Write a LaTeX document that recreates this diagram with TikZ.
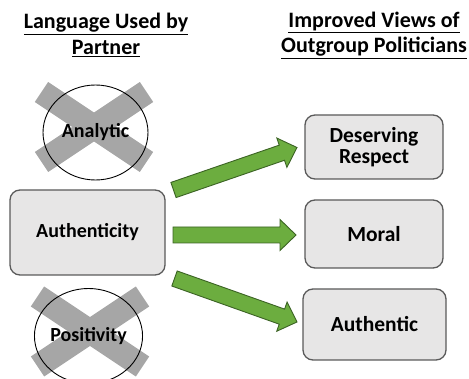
\documentclass[tikz,border=0pt]{standalone}
\usepackage{fontspec}
\setmainfont{Carlito}
\usetikzlibrary{calc,shapes.geometric}
\definecolor{boxgray}{HTML}{E7E6E6}
\definecolor{boxedge}{HTML}{5A5A5A}
\definecolor{crossgray}{HTML}{A6A6A6}
\definecolor{arrowgreen}{HTML}{6CAD3F}
\definecolor{arrowedge}{HTML}{3B6324}

\tikzset{
  heading/.style={align=center, font=\bfseries\fontsize{22}{25.5}\selectfont},
  viewbox/.style={draw=boxedge, line width=1.3pt, fill=boxgray, rounded corners=10pt,
    align=center, font=\bfseries\fontsize{21.5}{21.5}\selectfont},
  dropped/.style={ellipse, draw=black, line width=0.9pt, minimum width=105pt,
    minimum height=95pt, inner sep=0pt, font=\bfseries\fontsize{20}{24}\selectfont},
  crossbar/.style={crossgray, line width=24pt},
  fatarrow/.style={draw=arrowedge, fill=arrowgreen, line width=0.9pt, line join=miter},
}

\newcommand{\greenarrow}[2]{%
  \draw[fatarrow] let \p1=(#1), \p2=(#2),
      \n1={atan2(\y2-\y1,\x2-\x1)}, \n2={veclen(\x2-\x1,\y2-\y1)} in
    [shift={(\p1)}, rotate=\n1]
    (0,8) -- (\n2-16,8) -- (\n2-16,15.5) -- (\n2,0) -- (\n2-16,-15.5)
    -- (\n2-16,-8) -- (0,-8) -- cycle;}

\begin{document}
\begin{tikzpicture}[x=1pt,y=-1pt]
  \useasboundingbox (0,0) rectangle (469,379);

  % Headings
  \node[heading] (lefthead) at (106,35) {\underline{Language Used by}\\\underline{Partner}};
  \node[heading] (righthead) at (374,35) {\underline{Improved Views of}\\\underline{Outgroup Politicians}};

  % Crossed out language
  \coordinate (anacross) at (94,127);
  \draw[crossbar] ($(anacross)+(-52.5,-35)$) -- ($(anacross)+(52.5,35)$);
  \draw[crossbar] ($(anacross)+(52.5,-35)$) -- ($(anacross)+(-52.5,35)$);
  \node[dropped] (analytic) at (95.5,132.5) {Analytic};

  \coordinate (poscross) at (90,331.5);
  \draw[crossbar] ($(poscross)+(-52.5,-35)$) -- ($(poscross)+(52.5,35)$);
  \draw[crossbar] ($(poscross)+(52.5,-35)$) -- ($(poscross)+(-52.5,35)$);
  \node[dropped, minimum width=107pt] (positivity) at (88.5,336) {Positivity};

  % Boxes
  \node[viewbox, minimum width=155pt, minimum height=85pt,
    font=\bfseries\fontsize{20}{24}\selectfont] (authenticity) at (87.5,232.5) {Authenticity};
  \node[viewbox, minimum width=138pt, minimum height=64pt] (respect) at (374,147) {Deserving\\Respect};
  \node[viewbox, minimum width=138pt, minimum height=68pt] (moral) at (374,234) {Moral};
  \node[viewbox, minimum width=143pt, minimum height=71pt] (authentic) at (374.5,324.5) {Authentic};

  % Arrows
  \coordinate (tailup) at (173.5,190);
  \coordinate (tipup) at (297,147.5);
  \coordinate (tailmid) at (173,235);
  \coordinate (tipmid) at (296,235);
  \coordinate (taildown) at (174.5,278.5);
  \coordinate (tipdown) at (297,322);
  \greenarrow{tailup}{tipup}
  \greenarrow{tailmid}{tipmid}
  \greenarrow{taildown}{tipdown}
\end{tikzpicture}
\end{document}
